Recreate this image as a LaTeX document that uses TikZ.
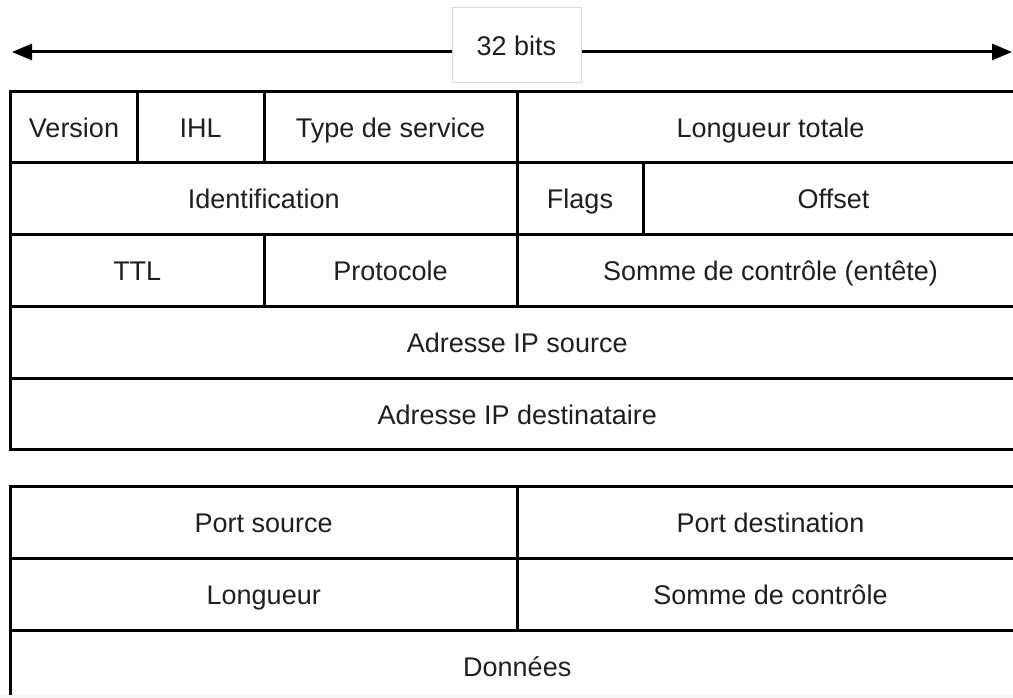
\documentclass[tikz,border=0pt]{standalone}
\usepackage{fontspec}
\setmainfont{Liberation Sans}
\usetikzlibrary{arrows.meta}
\definecolor{boxgray}{HTML}{D9D9D9}
\definecolor{txt}{HTML}{1F1F1F}
\begin{document}
\begin{tikzpicture}[field/.style={draw,rectangle,line width=3bp,inner sep=0pt,text height=19.5bp,text depth=0bp,font=\fontsize{27bp}{31bp}\selectfont,text=txt}]
  \useasboundingbox (0bp,0bp) rectangle (1013bp,698bp);
  \clip (0bp,0bp) rectangle (1013bp,698bp);
  \coordinate (Left) at (12bp,646bp);
  \coordinate (Right) at (1012bp,646bp);
  \draw [{Triangle[length=20bp,width=16bp]}-{Triangle[length=20bp,width=16bp]},line width=3bp] (Left) -- (Right);
  \node (Bits) at (516.5bp,652.5bp) [draw=boxgray,fill=white,rectangle,line width=1bp,minimum width=129bp,minimum height=75bp,inner sep=0pt,text height=19.5bp,text depth=0bp,font=\fontsize{27bp}{31bp}\selectfont,text=txt] {32 bits};
  \node (Version) at (74bp,570.5bp) [field,minimum width=127bp,minimum height=71bp] {Version};
  \node (IHL) at (200.75bp,570.5bp) [field,minimum width=126.5bp,minimum height=71bp] {IHL};
  \node (TypeService) at (390.5bp,570.5bp) [field,minimum width=253bp,minimum height=71bp] {Type de service};
  \node (LongueurTotale) at (770.5bp,570.5bp) [field,minimum width=507bp,minimum height=71bp] {Longueur totale};
  \node (Identification) at (263.75bp,499bp) [field,minimum width=506.5bp,minimum height=72bp] {Identification};
  \node (Flags) at (580bp,499bp) [field,minimum width=126bp,minimum height=72bp] {Flags};
  \node (Offset) at (833.5bp,499bp) [field,minimum width=381bp,minimum height=72bp] {Offset};
  \node (TTL) at (137.25bp,427bp) [field,minimum width=253.5bp,minimum height=72bp] {TTL};
  \node (Protocole) at (390.5bp,427bp) [field,minimum width=253bp,minimum height=72bp] {Protocole};
  \node (SommeEntete) at (770.5bp,427bp) [field,minimum width=507bp,minimum height=72bp] {Somme de contrôle (entête)};
  \node (AdresseSource) at (517.25bp,355bp) [field,minimum width=1013.5bp,minimum height=72bp] {Adresse IP source};
  \node (AdresseDest) at (517.25bp,283.5bp) [field,minimum width=1013.5bp,minimum height=71bp] {Adresse IP destinataire};
  \node (PortSource) at (263.75bp,175bp) [field,minimum width=506.5bp,minimum height=72bp] {Port source};
  \node (PortDest) at (770.5bp,175bp) [field,minimum width=507bp,minimum height=72bp] {Port destination};
  \node (Longueur) at (263.75bp,103bp) [field,minimum width=506.5bp,minimum height=72bp] {Longueur};
  \node (SommeControle) at (770.5bp,103bp) [field,minimum width=507bp,minimum height=72bp] {Somme de contrôle};
  \node (Donnees) at (517.25bp,31bp) [field,minimum width=1013.5bp,minimum height=72bp] {Données};
  \fill [gray!8] (0bp,0bp) rectangle (1013bp,3bp);
\end{tikzpicture}
\end{document}
